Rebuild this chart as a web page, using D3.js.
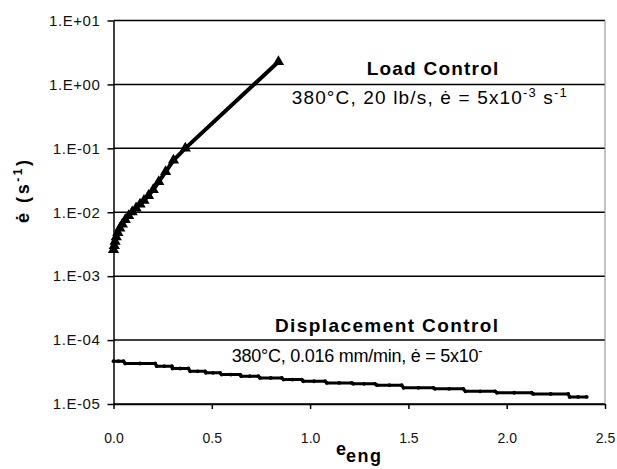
<!DOCTYPE html>
<html><head><meta charset="utf-8">
<script src="https://cdn.jsdelivr.net/npm/d3@7"></script>
<style>
body{margin:0;background:#fff}
svg{display:block}
text{font-family:"Liberation Sans",Arial,sans-serif}
</style></head>
<body><svg id="c" width="617" height="469"></svg>
<script>
// ---- data ----
const xTicks = [0, 0.5, 1.0, 1.5, 2.0, 2.5];
const xTickLabels = ["0.0", "0.5", "1.0", "1.5", "2.0", "2.5"];
const yTicks = [10, 1, 0.1, 0.01, 0.001, 0.0001, 0.00001];
const yTickLabels = ["1.E+01", "1.E+00", "1.E-01", "1.E-02", "1.E-03", "1.E-04", "1.E-05"];

const loadStrain = [0, 0.004, 0.008, 0.014, 0.022, 0.032, 0.045, 0.060, 0.077, 0.095, 0.115, 0.135, 0.155, 0.178, 0.202, 0.230, 0.265, 0.305, 0.365, 0.839];
const loadRate   = [0.0026, 0.0030, 0.0035, 0.0041, 0.0048, 0.0056, 0.0065, 0.0076, 0.0088, 0.0101, 0.0116, 0.0133, 0.0153, 0.0182, 0.0225, 0.0300, 0.0430, 0.0650, 0.100, 2.27];

const dispStrain = [0.000,0.025,0.051, 0.059,0.135,0.212, 0.220,0.258,0.297, 0.300,0.340,0.381, 0.390,0.428,0.466, 0.470,0.506,0.542, 0.550,0.597,0.644, 0.650,0.693,0.737, 0.745,0.800,0.856, 0.865,0.911,0.958, 0.965,1.020,1.076, 1.085,1.148,1.212, 1.220,1.275,1.330, 1.340,1.403,1.466, 1.475,1.551,1.627, 1.635,1.707,1.779, 1.790,1.865,1.941, 1.950,2.038,2.127, 2.135,2.224,2.313, 2.320,2.363,2.407];
const dispRate   = [4.67e-5,4.67e-5,4.67e-5, 4.30e-5,4.30e-5,4.30e-5, 3.90e-5,3.90e-5,3.90e-5, 3.59e-5,3.59e-5,3.59e-5, 3.25e-5,3.25e-5,3.25e-5, 3.07e-5,3.07e-5,3.07e-5, 2.89e-5,2.89e-5,2.89e-5, 2.72e-5,2.72e-5,2.72e-5, 2.56e-5,2.56e-5,2.56e-5, 2.41e-5,2.41e-5,2.41e-5, 2.27e-5,2.27e-5,2.27e-5, 2.14e-5,2.14e-5,2.14e-5, 2.07e-5,2.07e-5,2.07e-5, 1.97e-5,1.97e-5,1.97e-5, 1.79e-5,1.79e-5,1.79e-5, 1.73e-5,1.73e-5,1.73e-5, 1.58e-5,1.58e-5,1.58e-5, 1.50e-5,1.50e-5,1.50e-5, 1.44e-5,1.44e-5,1.44e-5, 1.29e-5,1.29e-5,1.29e-5];

// ---- drawing ----
const svg = d3.select("#c");
const x = d3.scaleLinear().domain([0, 2.5]).range([113.5, 605]);
const y = d3.scaleLog().domain([1e-5, 10]).range([404, 20.5]);

function fit(sel, target) {
  const n = sel.text().length;
  const len = sel.node().getComputedTextLength();
  sel.attr("letter-spacing", (target - len) / Math.max(1, n - 1));
}

// horizontal gridlines
svg.append("g").selectAll("line").data(yTicks).join("line")
  .attr("x1", x(0)).attr("x2", x(2.5))
  .attr("y1", d => y(d)).attr("y2", d => y(d))
  .attr("stroke", "#000").attr("stroke-width", 1.5);

// right border
svg.append("line").attr("x1", x(2.5)).attr("x2", x(2.5))
  .attr("y1", y(10)).attr("y2", y(1e-5))
  .attr("stroke", "#888").attr("stroke-width", 1);

// y axis
const ya = svg.append("g").attr("transform", `translate(${x(0)},0)`)
  .call(d3.axisLeft(y).tickValues(yTicks).tickFormat((d, i) => yTickLabels[i])
    .tickSize(6).tickSizeOuter(0).tickPadding(7));
ya.select(".domain").attr("stroke", "#000").attr("stroke-width", 1.5);
ya.selectAll(".tick line").attr("stroke", "#000").attr("stroke-width", 1.5);
ya.selectAll(".tick text").attr("font-size", 15).attr("fill", "#111")
  .attr("letter-spacing", 0.6).attr("font-family", null);

// x axis
const xa = svg.append("g").attr("transform", `translate(0,${y(1e-5)})`)
  .call(d3.axisBottom(x).tickValues(xTicks).tickFormat((d, i) => xTickLabels[i])
    .tickSize(5).tickSizeOuter(0).tickPadding(24));
xa.select(".domain").attr("stroke", "#000").attr("stroke-width", 1.5);
xa.selectAll(".tick line").attr("stroke", "#000").attr("stroke-width", 1.5);
xa.selectAll(".tick text").attr("font-size", 14).attr("fill", "#111").attr("font-family", null);

// axis titles
const xt = svg.append("text").attr("x", 336).attr("y", 455)
  .attr("font-size", 18).attr("font-weight", "bold").attr("fill", "#000");
xt.append("tspan").text("e");
xt.append("tspan").attr("dy", 7).attr("letter-spacing", 1.5).text("eng");

const yt = svg.append("text").attr("transform", "translate(29,223) rotate(-90)")
  .attr("font-size", 18).attr("font-weight", "bold").attr("fill", "#000");
yt.append("tspan").text("ė (s");
yt.append("tspan").attr("dy", -7).attr("font-size", 12).text("-1");
yt.append("tspan").attr("dy", 7).text(")");
fit(yt, 63);

// series lines
const line = d3.line().x(d => x(d[0])).y(d => y(d[1]));
const dispData = dispStrain.map((v, i) => [v, dispRate[i]]);
const loadData = loadStrain.map((v, i) => [v, loadRate[i]]);

svg.append("path").datum(dispData).attr("d", line)
  .attr("fill", "none").attr("stroke", "#000").attr("stroke-width", 3);
svg.append("g").selectAll("circle").data(dispData).join("circle")
  .attr("cx", d => x(d[0])).attr("cy", d => y(d[1])).attr("r", 1.9).attr("fill", "#000");

svg.append("path").datum(loadData).attr("d", line)
  .attr("fill", "none").attr("stroke", "#000").attr("stroke-width", 4);
svg.append("g").selectAll("path").data(loadData).join("path")
  .attr("transform", d => `translate(${x(d[0])},${y(d[1])})`)
  .attr("d", d3.symbol(d3.symbolTriangle).size(55)).attr("fill", "#000");

// annotations
const t1 = svg.append("text").attr("x", 366.7).attr("y", 75)
  .attr("font-size", 19).attr("font-weight", "bold").attr("fill", "#000").text("Load Control");
fit(t1, 131.6);

const t2 = svg.append("text").attr("x", 291.7).attr("y", 104)
  .attr("font-size", 19).attr("fill", "#000");
t2.append("tspan").text("380°C, 20 lb/s, ė = 5x10");
t2.append("tspan").attr("dy", -7).attr("font-size", 13).text("-3");
t2.append("tspan").attr("dy", 7).text(" s");
t2.append("tspan").attr("dy", -7).attr("font-size", 13).text("-1");
fit(t2, 275);

const t3 = svg.append("text").attr("x", 275).attr("y", 332)
  .attr("font-size", 19).attr("font-weight", "bold").attr("fill", "#000").text("Displacement Control");
fit(t3, 223);

const t4 = svg.append("text").attr("x", 231.7).attr("y", 362)
  .attr("font-size", 18).attr("fill", "#000");
t4.append("tspan").text("380°C, 0.016 mm/min, ė = 5x10");
t4.append("tspan").attr("dy", -7).attr("font-size", 13).text("-");
fit(t4, 251);
</script></body></html>
